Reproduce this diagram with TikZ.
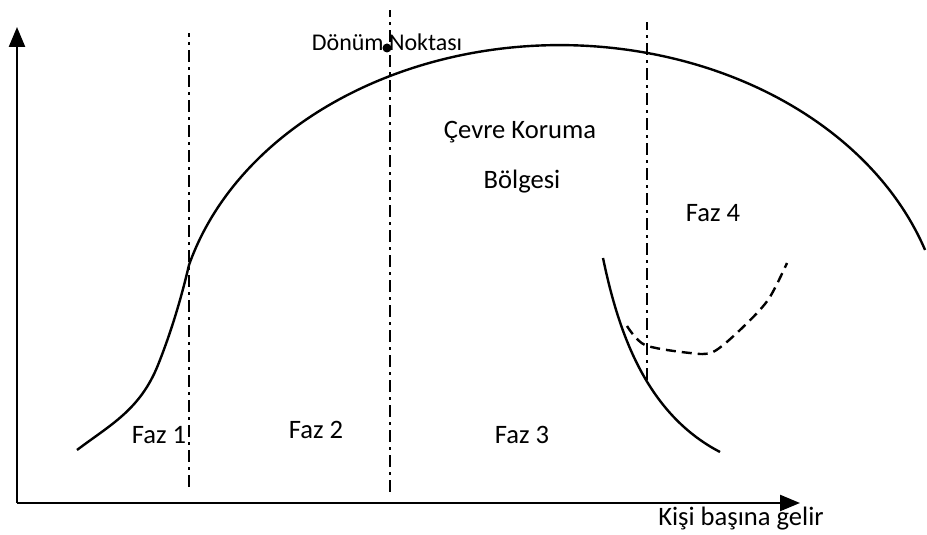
\documentclass[tikz,border=0pt]{standalone}
\usepackage{fontspec}
\setmainfont{Carlito}
\usetikzlibrary{arrows.meta}
\tikzset{
	eksen/.style={line width=1.2pt, -{Triangle[length=10pt,width=8pt]}},
	faz/.style={line width=1pt, dash pattern=on 6pt off 2.5pt on 1.5pt off 2.5pt},
	etiket/.style={font=\fontsize{13.3}{16}\selectfont, inner sep=1pt}
}
\begin{document}
\begin{tikzpicture}[x=0.5pt, y=0.5pt, line width=1.2pt]
			\useasboundingbox (0,0) rectangle (927,535);
			%\draw[dotted] (0,0) grid[step=50] (927,535);
			\draw [eksen] (17,32) -- (17,508);
			\draw [eksen] (17,32) -- (800,32);
			\draw [faz] (189,48) -- (189,502);
			\draw [faz] (390,43) -- (390,525);
			\draw [faz] (647,155) -- (647,513);
			% egri
			\draw (77,85) .. controls (110,110) and (140,125) .. (158,170)
				.. controls (172,205) and (182,240) .. (189,270)
				arc [start angle=164.5, end angle=18.5, x radius=192.5pt, y radius=150pt];
			\draw (603,277) .. controls (618,205) and (645,122) .. (720,83);
			\draw [dash pattern=on 5pt off 3pt] plot [smooth, tension=0.5] coordinates
				{(627,209) (645,190) (690,182) (713,183) (740,205) (768,235) (787,272)};
			\fill (387,487) circle (4.5);
			\node [etiket, font=\fontsize{12}{14}\selectfont] (donum) at (387,493) {Dönüm Noktası};
			\node [etiket] (cevre) at (520,403) {Çevre Koruma};
			\node [etiket] (bolge) at (522,353) {Bölgesi};
			\node [etiket] (faz1) at (159,100) {Faz 1};
			\node [etiket] (faz2) at (316,105) {Faz 2};
			\node [etiket] (faz3) at (522,100) {Faz 3};
			\node [etiket] (faz4) at (713,322) {Faz 4};
			\node [etiket] (gelir) at (741,16) {Kişi başına gelir};
	\end{tikzpicture}
\end{document}
